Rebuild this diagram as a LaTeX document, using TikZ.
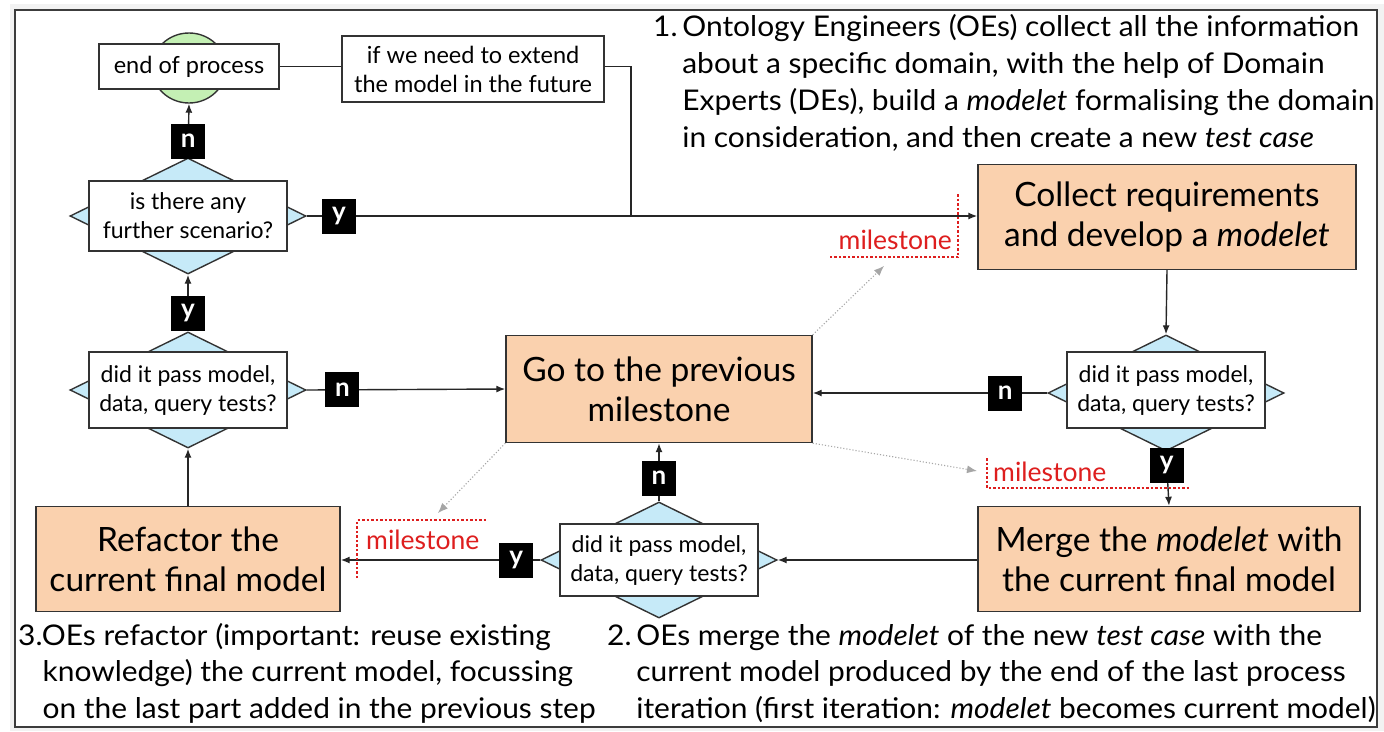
\documentclass[tikz,border=0pt]{standalone}
\usepackage{fontspec}
\setmainfont{Lato}
\newfontfamily\widefont[FakeStretch=1.05]{Lato}
\newfontfamily\topfont[FakeStretch=1.05]{Lato}
\usetikzlibrary{shapes.geometric,arrows.meta}
\definecolor{peach}{RGB}{250,209,174}
\definecolor{lblue}{RGB}{198,234,248}
\definecolor{lgreen}{RGB}{196,240,180}
\definecolor{msred}{RGB}{222,30,30}
\definecolor{frame}{RGB}{60,60,60}
\tikzset{
  every node/.style={font=\fontsize{23.5}{29}\selectfont},
  procbox/.style={draw=black!80, line width=1.4pt, fill=peach, minimum width=#1, minimum height=105pt, align=center, inner sep=2pt, font=\fontsize{33.5}{40}\selectfont},
  qbox/.style={draw=black!80, line width=1.4pt, fill=white, align=center, minimum width=198pt, inner sep=3pt, font=\fontsize{23}{29}\selectfont},
  dia/.style={diamond, draw=black!80, line width=1.4pt, fill=lblue, minimum width=236pt, minimum height=116pt, inner sep=0pt},
  lab/.style={fill=black, text=white, font=\fontsize{26}{26}\selectfont\bfseries, minimum width=34pt, minimum height=35pt, inner sep=0pt},
  conn/.style={line width=1.4pt, draw=black!85, -{Latex[length=9pt,width=7pt]}},
  plain/.style={line width=1.4pt, draw=black!85},
  grey/.style={draw=gray!70, line width=1.1pt, dotted, -{Latex[length=10pt,width=8pt]}},
  ms/.style={text=msred, font=\fontsize{26.5}{26.5}\selectfont, inner sep=0pt},
  msline/.style={draw=msred, line width=1.2pt, dash pattern=on 2.5pt off 2pt},
  para/.style={align=left, anchor=base west, inner sep=0pt, font=\widefont\fontsize{28.5}{36.5}\selectfont},
  tpara/.style={align=left, anchor=base west, inner sep=0pt, font=\topfont\fontsize{28.5}{37}\selectfont},
}
\begin{document}
\begin{tikzpicture}[x=1pt,y=-1pt]
\useasboundingbox (0,0) rectangle (1384,731);
\fill[white] (0,0) rectangle (1384,731);
\fill[black!5] (10,4) rectangle (1384,731);
\draw[frame, line width=1.5pt, fill=white] (15,10) rectangle (1377,727);

% end of process
\node[ellipse, draw=black!80, line width=1.4pt, fill=lgreen, minimum width=74pt, minimum height=70pt, inner sep=0pt] (endc) at (189,68) {};
\node[draw=black!80, line width=1.4pt, fill=white, minimum width=180pt, minimum height=45pt, inner sep=2pt] (endp) at (189,66.5) {end of process};
\node[draw=black!80, line width=1.4pt, fill=white, minimum width=262pt, minimum height=66pt, align=center, inner sep=3pt] (ext) at (473,69) {if we need to extend\\the model in the future};
\coordinate (join) at (631,216);

% diamonds
\node[dia] (d1) at (188,216) {};
\node[qbox, minimum height=70pt] (q1) at (188,216) {is there any\\further scenario?};
\node[dia] (d2) at (188,390) {};
\node[qbox, minimum height=76pt] (q2) at (188,390) {did it pass model,\\data, query tests?};
\node[dia] (d3) at (1166,393) {};
\node[qbox, minimum height=76pt] (q3) at (1166,390) {did it pass model,\\data, query tests?};
\node[dia] (d4) at (659,560) {};
\node[qbox, minimum height=72pt] (q4) at (659,560) {did it pass model,\\data, query tests?};

% process boxes
\node[procbox=378pt] (coll) at (1167,217) {Collect requirements\\and develop a \textit{modelet}};
\node[procbox=306pt, minimum height=107pt] (go) at (659,389) {Go to the previous\\milestone};
\node[procbox=382pt] (merge) at (1169,559) {Merge the \textit{modelet} with\\the current final model};
\node[procbox=304pt] (ref) at (188,559) {Refactor the\\current final model};

% connectors
\draw[plain] (endp.east) -- (ext.west |- endp.east);
\draw[plain] (ext.east |- endp.east) -- (join |- endp.east) -- (join);
\draw[conn] (d1.north) -- node[lab, pos=0.3]{n} (endc.south);
\draw[conn] (d1.east) -- node[lab, pos=0.048]{y} (d1.east -| coll.west);
\draw[conn] (d2.north) -- node[lab, pos=0.32]{y} (d1.south);
\draw[conn] (d2.east) -- node[lab, pos=0.18]{n} (go.west);
\draw[conn] (coll.south) -- (d3.north);
\draw[conn] (d3.west) -- node[lab, pos=0.18]{n} (d3.west -| go.east);
\draw[conn] (d3.south) -- node[lab, pos=0.25]{y} (merge.north);
\draw[conn] (merge.west |- d4.east) -- (d4.east);
\draw[conn] (d4.north) -- node[lab, pos=0.4]{n} (go.south);
\draw[conn] (d4.west) -- node[lab, pos=0.12]{y} (d4.west -| ref.east);
\draw[conn] (ref.north) -- (d2.south);

% milestones
\node[ms, anchor=base east] (m1) at (952,249) {milestone};
\draw[msline] (958,194) -- (958,257) -- (830,257);
\node[ms, anchor=base west] (m2) at (993,481) {milestone};
\draw[msline] (987,458) -- (987,488) -- (1190,488);
\node[ms, anchor=base west] (m3) at (366,549) {milestone};
\draw[msline] (357,578) -- (357,520) -- (487,520);

\draw[grey] (go.north east) -- (884,266);
\draw[grey] (go.south east) -- (977,471);
\draw[grey] (go.south west) -- (438,513);

% texts (anchored at the baseline of the last line)
\node[tpara] (t1) at (653,147) {1.\,Ontology Engineers (OEs) collect all the information\\
\phantom{1.\,}about a specific domain, with the help of Domain\\
\phantom{1.\,}Experts (DEs), build a \textit{modelet} formalising the domain\\
\phantom{1.\,}in consideration, and then create a new \textit{test case}};
\node[para] (t3) at (18,718) {3.OEs refactor (important: reuse existing\\
\phantom{3.}knowledge) the current model, focussing\\
\phantom{3.}on the last part added in the previous step};
\node[para] (t2) at (607,718) {2.\,OEs merge the \textit{modelet} of the new \textit{test case} with the\\
\phantom{2.\,}current model produced by the end of the last process\\
\phantom{2.\,}iteration (first iteration: \textit{modelet} becomes current model)};
\end{tikzpicture}
\end{document}
